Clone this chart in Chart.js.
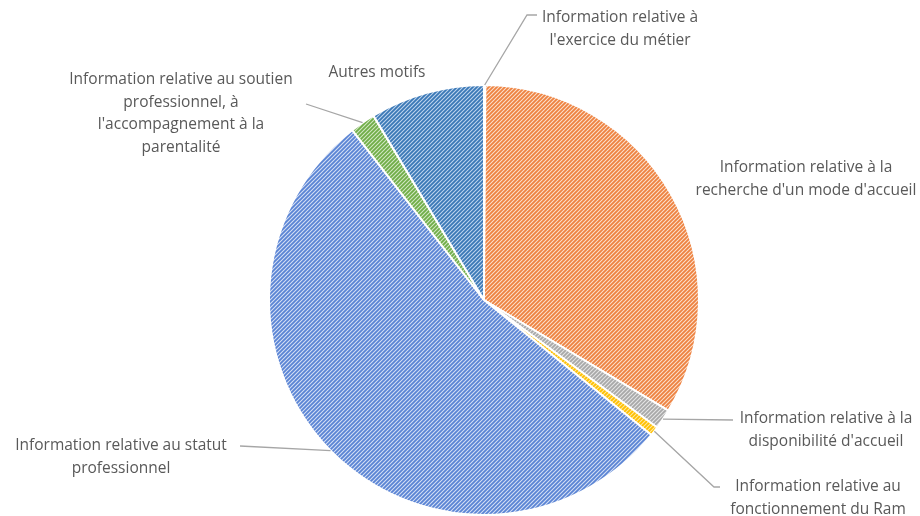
<!DOCTYPE html>
<html><head><meta charset="utf-8">
<script src="https://cdn.jsdelivr.net/npm/chart.js@4"></script>
<style>html,body{margin:0;padding:0;background:#fff}#wrap{width:920px;height:516px;position:relative}</style>
</head><body><div id="wrap"><canvas id="c" width="920" height="516"></canvas></div>
<script>
const categories = [
  ["Information relative à", "l'exercice du métier"],
  ["Information relative à la", "recherche d'un mode d'accueil"],
  ["Information relative à la", "disponibilité d'accueil"],
  ["Information relative au", "fonctionnement du Ram"],
  ["Information relative au statut", "professionnel"],
  ["Information relative au soutien", "professionnel, à", "l'accompagnement à la", "parentalité"],
  ["Autres motifs"]
];
const values = [0.1, 33.5, 1.5, 0.7, 53.7, 1.9, 8.6];
const stripeColors = ["#4472C4", "#EE8240", "#A8A8A8", "#FFC000", "#5A84D4", "#70AD47", "#3A78B6"];
const backColors   = ["#D6E0F5", "#FCE0CC", "#E6E6E6", "#FFE8A3", "#D6E0F5", "#D3E8C5", "#C0D6EE"];

// label placement (text centre x, first-line y, leader points)
const labelLayout = [
  {x: 620, y: 18, leader: [[527, 15], [537, 15]]},
  {x: 806, y: 168, leader: null},
  {x: 826, y: 419, leader: [[733, 420]]},
  {x: 818, y: 487, leader: [[714, 487], [720, 487]]},
  {x: 121, y: 446, leader: [[240, 446]]},
  {x: 181, y: 80, leader: [[306, 104]]},
  {x: 377, y: 73, leader: null}
];

function makePattern(fg, bg) {
  const s = 4;
  const c = document.createElement('canvas');
  c.width = s; c.height = s;
  const x = c.getContext('2d');
  x.fillStyle = bg; x.fillRect(0, 0, s, s);
  x.strokeStyle = fg; x.lineWidth = 1.8;
  x.beginPath();
  x.moveTo(-1, s + 1); x.lineTo(s + 1, -1);
  x.moveTo(-1, 1); x.lineTo(1, -1);
  x.moveTo(s - 1, s + 1); x.lineTo(s + 1, s - 1);
  x.stroke();
  return x.createPattern(c, 'repeat');
}
const patterns = stripeColors.map((f, i) => makePattern(f, backColors[i]));

const labelPlugin = {
  id: 'outerLabels',
  afterDatasetsDraw(chart) {
    const ctx = chart.ctx;
    const meta = chart.getDatasetMeta(0);
    ctx.save();
    ctx.font = '15.5px "Open Sans", sans-serif';
    ctx.fillStyle = '#595959';
    ctx.textAlign = 'center';
    ctx.textBaseline = 'middle';
    meta.data.forEach((arc, i) => {
      const L = labelLayout[i];
      const lines = categories[i];
      lines.forEach((t, k) => ctx.fillText(t, L.x, L.y + k * 22.5));
      if (L.leader) {
        const p = arc.getProps(['x', 'y', 'startAngle', 'endAngle', 'outerRadius'], true);
        const a = (p.startAngle + p.endAngle) / 2;
        const r = p.outerRadius;
        ctx.strokeStyle = '#A6A6A6';
        ctx.lineWidth = 1.3;
        ctx.beginPath();
        ctx.moveTo(p.x + Math.cos(a) * r, p.y + Math.sin(a) * r);
        L.leader.forEach(pt => ctx.lineTo(pt[0], pt[1]));
        ctx.stroke();
      }
    });
    ctx.restore();
  }
};

new Chart(document.getElementById('c'), {
  type: 'pie',
  data: {
    labels: categories.map(l => l.join(' ')),
    datasets: [{
      data: values,
      backgroundColor: patterns,
      borderColor: '#ffffff',
      borderWidth: 2
    }]
  },
  options: {
    responsive: false,
    animation: false,
    layout: {padding: {top: 84, bottom: 0, left: 268, right: 220}},
    plugins: {legend: {display: false}, tooltip: {enabled: false}}
  },
  plugins: [labelPlugin]
});
</script></body></html>
